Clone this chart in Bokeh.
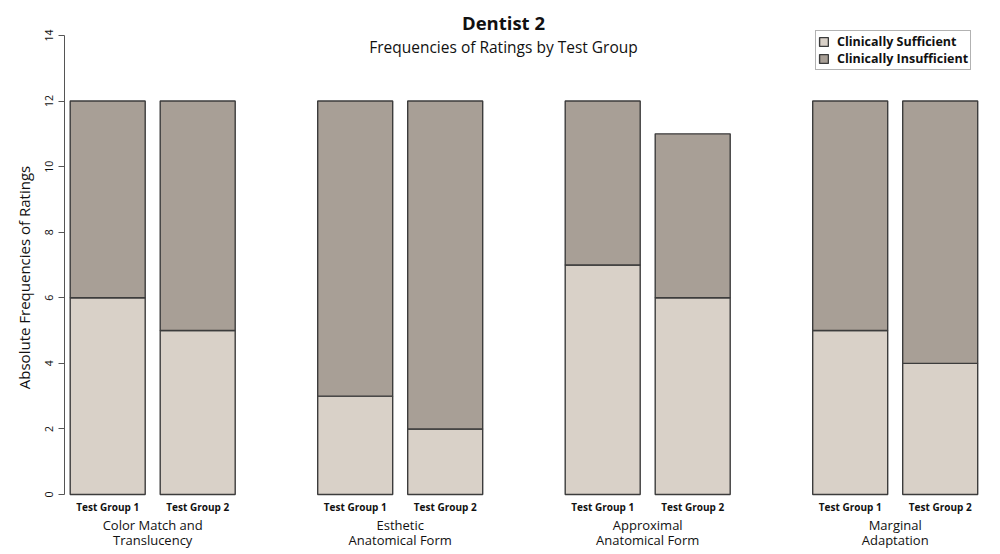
from bokeh.plotting import figure
from bokeh.models import Range1d, FixedTicker, ColumnDataSource
from bokeh.core.properties import value
from bokeh.embed import file_html
from bokeh.resources import INLINE

# ---- data ----
categories = ["Color Match and\nTranslucency", "Esthetic\nAnatomical Form",
              "Approximal\nAnatomical Form", "Marginal\nAdaptation"]
test_groups = ["Test Group 1", "Test Group 2"]
sufficient = [6, 5, 3, 2, 7, 6, 5, 4]
insufficient = [6, 7, 9, 10, 5, 5, 7, 8]
series_names = ["Clinically Sufficient", "Clinically Insufficient"]
y_ticks = [0, 2, 4, 6, 8, 10, 12, 14]
title_text = "Dentist 2"
subtitle_text = "Frequencies of Ratings by Test Group"
y_label = "Absolute Frequencies of Ratings"

# ---- layout constants ----
FONT = "Open Sans"
LIGHT = "#d9d1c8"
DARK = "#a89f96"
EDGE = "#3c3c3c"
X0 = 0.576          # center of first bar (bar width = 1)
PAIR = 1.2          # pitch between bars inside a group
GROUP = 3.3         # pitch between groups

xs, sub_labels = [], []
for g in range(len(categories)):
    for i, tg in enumerate(test_groups):
        xs.append(X0 + g * GROUP + i * PAIR)
        sub_labels.append(tg)
group_x = [X0 + g * GROUP + PAIR / 2 for g in range(len(categories))]
line1 = [c.split("\n")[0] for c in categories]
line2 = [c.split("\n")[1] for c in categories]

p = figure(width=1000, height=554, output_backend="svg", toolbar_location=None,
           x_range=Range1d(0, 12.48), y_range=Range1d(-1.830, 15.0675),
           x_axis_location=None, min_border_left=64, min_border_right=0,
           min_border_top=0, min_border_bottom=0)
p.outline_line_color = None
p.grid.visible = False
p.background_fill_color = "white"

src = ColumnDataSource(dict(x=xs, suff=sufficient, insuff=insufficient))
p.vbar_stack(["suff", "insuff"], x="x", width=1, source=src,
             fill_color=[LIGHT, DARK], line_color=EDGE, line_width=1.4,
             legend_label=series_names)

ax = p.yaxis[0]
ax.bounds = (0, 14)
ax.ticker = FixedTicker(ticks=y_ticks)
ax.minor_tick_line_color = None
ax.major_tick_out = 6
ax.major_tick_in = 0
ax.axis_line_color = "#555555"
ax.major_tick_line_color = "#555555"
ax.major_label_orientation = "vertical"
ax.major_label_standoff = 5
ax.major_label_text_font = FONT
ax.major_label_text_font_size = "10.5px"
ax.major_label_text_color = "#111111"
ax.axis_label = y_label
ax.axis_label_text_font = FONT
ax.axis_label_text_font_size = "15px"
ax.axis_label_text_font_style = "normal"
ax.axis_label_text_color = "#111111"
ax.axis_label_standoff = 9

# sub labels (Test Group 1/2)
p.text(x=xs, y=[-0.366] * len(xs), text=sub_labels, text_align="center",
       text_baseline="middle", text_font=value(FONT), text_font_size="10px",
       text_font_style="bold", text_color="#111111")
# group labels (two lines)
p.text(x=group_x, y=[-0.915] * len(group_x), text=line1, text_align="center",
       text_baseline="middle", text_font=value(FONT), text_font_size="13px",
       text_color="#111111")
p.text(x=group_x, y=[-1.373] * len(group_x), text=line2, text_align="center",
       text_baseline="middle", text_font=value(FONT), text_font_size="13px",
       text_color="#111111")
# titles
p.text(x=[5.853], y=[14.40], text=[title_text], text_align="center",
       text_baseline="middle", text_font=value(FONT), text_font_size="18.5px",
       text_font_style="bold", text_color="#111111")
p.text(x=[5.853], y=[13.66], text=[subtitle_text], text_align="center",
       text_baseline="middle", text_font=value(FONT), text_font_size="15.5px",
       text_color="#111111")

lg = p.legend[0]
lg.location = (751, 484)
lg.margin = 0
lg.padding = 2
lg.spacing = 0
lg.label_height = 12
lg.glyph_height = 11
lg.glyph_width = 11
lg.label_standoff = 8
lg.label_text_font = FONT
lg.label_text_font_size = "12.5px"
lg.label_text_font_style = "bold"
lg.label_text_color = "#111111"
lg.border_line_color = "#666666"
lg.background_fill_alpha = 1

open("out.html", "w").write(file_html(p, INLINE))
